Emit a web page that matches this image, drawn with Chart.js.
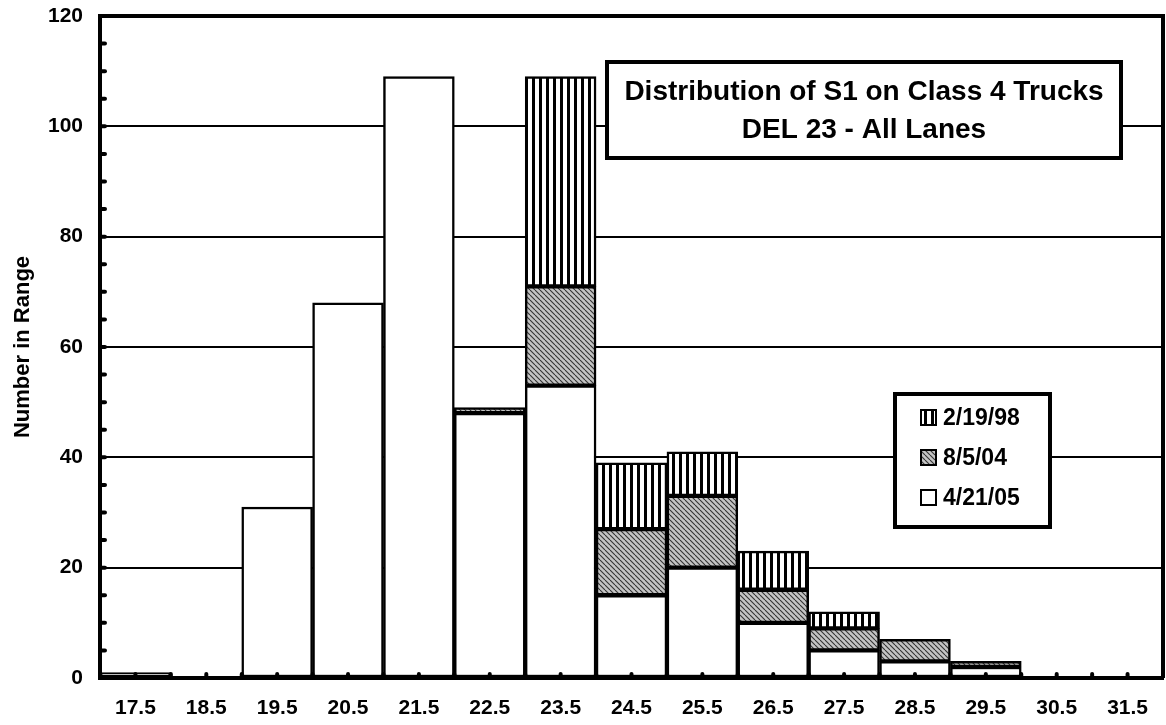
<!DOCTYPE html>
<html>
<head>
<meta charset="utf-8">
<script src="https://cdn.jsdelivr.net/npm/chart.js@4"></script>
<style>
    body { margin: 0; background: #fff; }
    #wrap { width: 1166px; height: 725px; }
</style>
</head>
<body>
<div id="wrap"><canvas id="s1-chart" width="1166" height="725"></canvas></div>
<script>
(function() {
    // data block
    const categories = ['17.5', '18.5', '19.5', '20.5', '21.5', '22.5', '23.5', '24.5', '25.5', '26.5', '27.5', '28.5', '29.5', '30.5', '31.5']
    const seriesLabels = ['4/21/05', '8/5/04', '2/19/98']
    const apr2105 = [1, 0, 31, 68, 109, 48, 53, 15, 20, 10, 5, 3, 2, 0, 0]
    const aug0504 = [0, 0, 0, 0, 0, 1, 18, 12, 13, 6, 4, 4, 1, 0, 0]
    const feb1998 = [0, 0, 0, 0, 0, 0, 38, 12, 8, 7, 3, 0, 0, 0, 0]
    const titleLines = ['Distribution of S1 on Class 4 Trucks', 'DEL 23 - All Lanes']
    const yTitle = 'Number in Range'

    const FONT = "'Liberation Sans', Arial, sans-serif"

    // patterns
    function stripes() {
        const c = document.createElement('canvas')
        c.width = 7; c.height = 7
        const g = c.getContext('2d')
        g.fillStyle = '#fff'
        g.fillRect(0, 0, 7, 7)
        g.fillStyle = '#000'
        g.fillRect(0, 0, 3, 7)
        return g.createPattern(c, 'repeat')
    }
    function hatch() {
        const s = 5
        const c = document.createElement('canvas')
        c.width = s; c.height = s
        const g = c.getContext('2d')
        g.fillStyle = '#c4c4c4'
        g.fillRect(0, 0, s, s)
        g.strokeStyle = '#333'
        g.lineWidth = 1.1
        for (const off of [-s, 0, s]) {
            g.beginPath()
            g.moveTo(off, 0)
            g.lineTo(off + s, s)
            g.stroke()
        }
        return g.createPattern(c, 'repeat')
    }

    const fills = ['#fff', hatch(), stripes()]

    const data = {
        labels: categories,
        datasets: [apr2105, aug0504, feb1998].map((vals, i) => ({
            label: seriesLabels[i],
            data: vals,
            backgroundColor: fills[i],
            borderColor: '#000',
            borderWidth: 2.5,
            borderSkipped: false,
            barPercentage: 1,
            categoryPercentage: 1
        }))
    }

    // frame, small ticks, title box, legend
    const decor = {
        id: 'decor',
        afterDraw(chart) {
            const { ctx, chartArea: { top, right, bottom, left } } = chart
            const x = chart.scales.x
            const y = chart.scales.y
            ctx.save()
            ctx.strokeStyle = '#000'
            ctx.lineWidth = 4
            ctx.beginPath()
            ctx.moveTo(left, top)
            ctx.lineTo(right, top)
            ctx.lineTo(right, bottom)
            ctx.stroke()

            // minor ticks on y
            ctx.lineWidth = 4
            ctx.lineCap = 'round'
            for (let v = 0; v <= 120; v += 5) {
                const py = y.getPixelForValue(v)
                ctx.beginPath()
                ctx.moveTo(left, py)
                ctx.lineTo(left + 5, py)
                ctx.stroke()
            }
            // ticks on x at centres and edges
            const half = (x.getPixelForValue(1) - x.getPixelForValue(0)) / 2
            for (let i = 0; i < categories.length; i++) {
                const cx = x.getPixelForValue(i)
                for (const px of [cx, cx + half]) {
                    if (px >= right - 1) continue
                    ctx.beginPath()
                    ctx.moveTo(px, bottom)
                    ctx.lineTo(px, bottom - 4)
                    ctx.stroke()
                }
            }
            ctx.lineCap = 'butt'

            // title box
            ctx.fillStyle = '#fff'
            ctx.fillRect(607, 62, 514, 96)
            ctx.lineWidth = 4
            ctx.strokeRect(607, 62, 514, 96)
            ctx.fillStyle = '#000'
            ctx.font = 'bold 28px ' + FONT
            ctx.textAlign = 'center'
            ctx.textBaseline = 'alphabetic'
            ctx.fillText(titleLines[0], 864, 100)
            ctx.fillText(titleLines[1], 864, 138)

            // legend box
            ctx.fillStyle = '#fff'
            ctx.fillRect(895, 394, 155, 133)
            ctx.lineWidth = 4
            ctx.strokeRect(895, 394, 155, 133)
            ctx.font = 'bold 23px ' + FONT
            ctx.textAlign = 'left'
            const rows = [2, 1, 0]
            rows.forEach((di, r) => {
                const base = 425 + r * 40
                const ds = chart.data.datasets[di]
                ctx.fillStyle = ds.backgroundColor
                ctx.fillRect(921, base - 15, 15, 15)
                ctx.lineWidth = 2
                ctx.strokeRect(921, base - 15, 15, 15)
                ctx.fillStyle = '#000'
                ctx.fillText(ds.label, 943, base)
            })
            ctx.restore()
        }
    }

    const config = {
        type: 'bar',
        data: data,
        options: {
            responsive: false,
            animation: false,
            devicePixelRatio: 1,
            layout: { padding: { top: 16, right: 3, left: 0, bottom: 0 } },
            scales: {
                x: {
                    stacked: true,
                    grid: { display: false, drawTicks: false },
                    border: { display: true, color: '#000', width: 4 },
                    ticks: {
                        color: '#000',
                        font: { family: FONT, size: 21, weight: 'bold' },
                        padding: 18,
                        maxRotation: 0,
                        autoSkip: false
                    },
                    afterFit(scale) {
                        scale.height = 47
                        scale.paddingLeft = 0
                        scale.paddingRight = 0
                    }
                },
                y: {
                    stacked: true,
                    min: 0,
                    max: 120,
                    grid: { color: '#000', lineWidth: 2, drawTicks: false },
                    border: { display: true, color: '#000', width: 4 },
                    ticks: {
                        stepSize: 20,
                        color: '#000',
                        font: { family: FONT, size: 21, weight: 'bold' },
                        padding: 17
                    },
                    title: {
                        display: true,
                        text: yTitle,
                        color: '#000',
                        font: { family: FONT, size: 22, weight: 'bold' },
                        padding: { top: 10, bottom: 0 }
                    },
                    afterFit(scale) {
                        scale.width = 100
                        scale.paddingTop = 0
                        scale.paddingBottom = 0
                    }
                }
            },
            plugins: {
                legend: { display: false },
                tooltip: { enabled: false }
            }
        },
        plugins: [decor]
    }

    const chart = new Chart(document.getElementById('s1-chart'), config)
})()
</script>
</body>
</html>
